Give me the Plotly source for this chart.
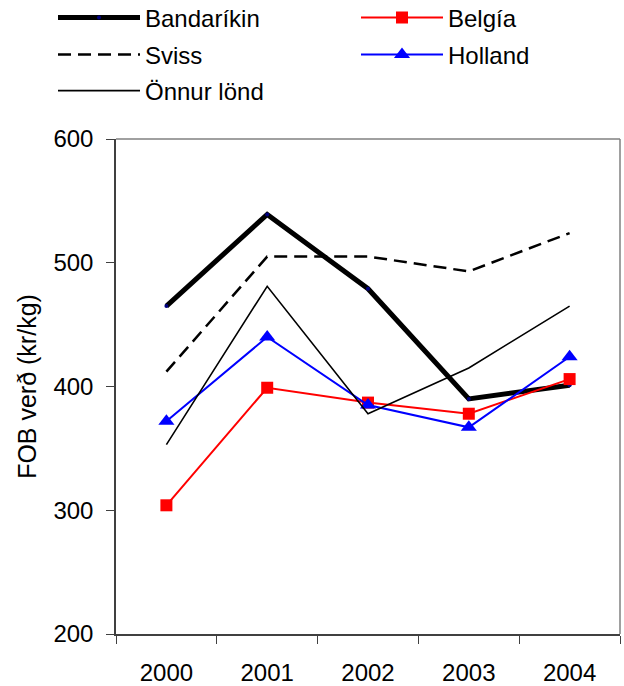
import plotly.graph_objects as go

years = ["2000", "2001", "2002", "2003", "2004"]
bandarikin = [465, 539, 479, 390, 401]
belgia = [304, 399, 387, 378, 406]
sviss = [412, 505, 505, 493, 524]
holland = [372, 440, 385, 367, 424]
onnur = [353, 481, 378, 415, 465]
y_ticks = [200, 300, 400, 500, 600]

FONT = "Liberation Sans, Arial, sans-serif"
FS = 24

fig = go.Figure()
fig.add_trace(go.Scatter(x=years, y=bandarikin, name="Bandaríkin", mode="lines+markers",
                         line=dict(color="black", width=5),
                         marker=dict(symbol="circle", size=4, color="#000080"),
                         legend="legend"))
fig.add_trace(go.Scatter(x=years, y=belgia, name="Belgía", mode="lines+markers",
                         line=dict(color="#FF0000", width=2),
                         marker=dict(symbol="square", size=12, color="#FF0000"),
                         legend="legend2"))
fig.add_trace(go.Scatter(x=years, y=sviss, name="Sviss", mode="lines",
                         line=dict(color="black", width=2.5, dash="13px,7px"),
                         legend="legend3"))
fig.add_trace(go.Scatter(x=years, y=holland, name="Holland", mode="lines+markers",
                         line=dict(color="#0000FF", width=2),
                         marker=dict(symbol="triangle-up", size=14, color="#0000FF"),
                         legend="legend4"))
fig.add_trace(go.Scatter(x=years, y=onnur, name="Önnur lönd", mode="lines",
                         line=dict(color="black", width=1.6),
                         legend="legend5"))

W, H = 624, 686
ml, mr, mt, mb = 116, 4, 139, 52
pw = W - ml - mr
ph = H - mt - mb

def px_x(x):
    return (x - ml) / pw

def px_y(y):
    return (H - mb - y) / ph

leg_common = dict(orientation="h", xanchor="left", yanchor="middle",
                  font=dict(family=FONT, size=FS, color="black"),
                  itemwidth=82, bgcolor="rgba(0,0,0,0)",
                  traceorder="normal", itemclick=False)

fig.update_layout(
    width=W, height=H,
    margin=dict(l=ml, r=mr, t=mt, b=mb, autoexpand=False),
    paper_bgcolor="white", plot_bgcolor="white",
    font=dict(family=FONT, size=FS, color="black"),
    showlegend=True,
    legend=dict(x=px_x(53), y=px_y(18), **leg_common),
    legend2=dict(x=px_x(356), y=px_y(18), **leg_common),
    legend3=dict(x=px_x(53), y=px_y(55), **leg_common),
    legend4=dict(x=px_x(356), y=px_y(55), **leg_common),
    legend5=dict(x=px_x(53), y=px_y(91), **leg_common),
    xaxis=dict(type="category", range=[-0.5, 4.5], showgrid=False, zeroline=False,
               showline=True, linecolor="#404040", linewidth=1.5,
               ticks="outside", ticklen=8, tickcolor="#404040", tickwidth=1,
               tickson="boundaries", ticklabelstandoff=16,
               tickfont=dict(family=FONT, size=FS, color="black")),
    yaxis=dict(range=[200, 600], tickvals=y_ticks, showgrid=False, zeroline=False,
               showline=True, linecolor="#404040", linewidth=1.5,
               ticks="outside", ticklen=8, tickcolor="#404040", tickwidth=1,
               ticklabelstandoff=8,
               tickfont=dict(family=FONT, size=FS, color="black"),
               title=dict(text="FOB verð (kr/kg)", standoff=10,
                          font=dict(family=FONT, size=25, color="black"))),
)
# top and right border of plot area
fig.add_shape(type="line", xref="paper", yref="paper", x0=0, x1=1, y0=1, y1=1,
              line=dict(color="#808080", width=1.5))
fig.add_shape(type="line", xref="paper", yref="paper", x0=1, x1=1, y0=0, y1=1,
              line=dict(color="#808080", width=1.5))

fig.write_html("out.html")
